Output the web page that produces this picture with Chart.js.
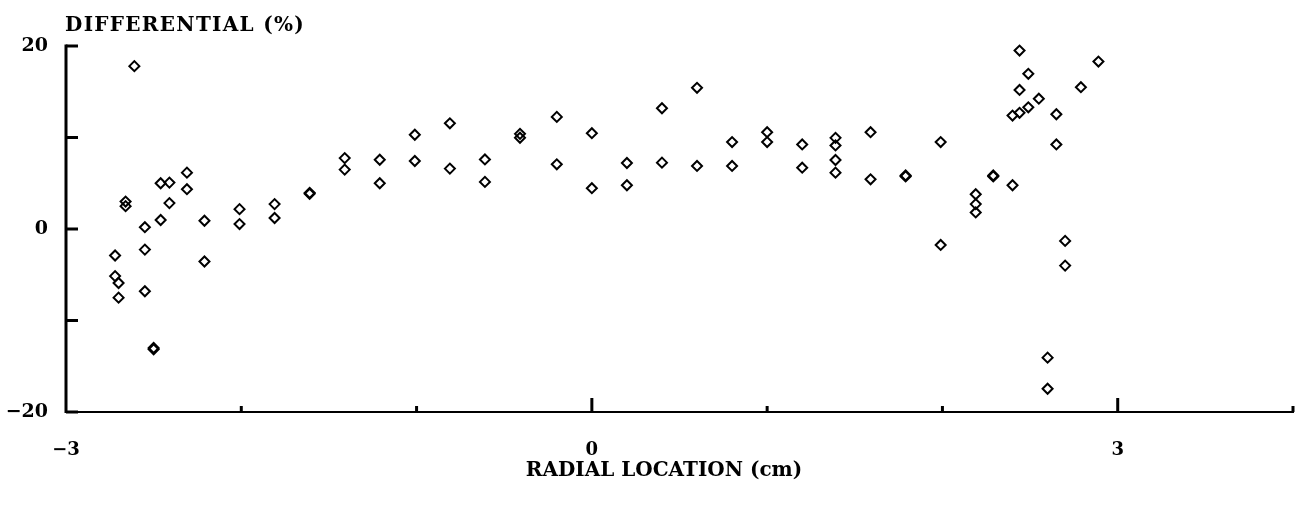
<!DOCTYPE html>
<html><head><meta charset="utf-8">
<script src="https://cdn.jsdelivr.net/npm/chart.js@4.4.1/dist/chart.umd.min.js"></script>
<style>html,body{margin:0;padding:0;background:#fff;}#wrap{width:1300px;height:508px;}</style>
</head><body><div id="wrap"><canvas id="c" width="1300" height="508"></canvas></div>
<script>
// Radial location (cm) of each measurement
const radialLocation = [
  -2.61, -2.66, -2.66, -2.72, -2.72, -2.70, -2.70, -2.55, -2.55, -2.55,
  -2.50, -2.50, -2.46, -2.41, -2.46, -2.41, -2.31, -2.31, -2.21, -2.21,
  -2.01, -2.01, -1.81, -1.81, -1.61, -1.61, -1.41, -1.41, -1.21, -1.21,
  -1.01, -1.01, -0.81, -0.81, -0.61, -0.61, -0.41, -0.41, -0.20, -0.20,
   0.00,  0.00,  0.20,  0.20,  0.40,  0.40,  0.60,  0.60,  0.80,  0.80,
   1.00,  1.00,  1.20,  1.20,  1.39,  1.39,  1.39,  1.39,  1.59,  1.59,
   1.79,  1.79,  1.99,  1.99,  2.19,  2.19,  2.19,  2.29,  2.29,  2.40,
   2.40,  2.44,  2.44,  2.44,  2.49,  2.49,  2.55,  2.65,  2.65,  2.60,
   2.60,  2.70,  2.70,  2.79,  2.89
];
// Differential (%) of each measurement
const differential = [
  17.8,  3.0,  2.5, -2.9, -5.15, -5.9, -7.5,  0.2, -2.25, -6.8,
 -13.0, -13.15, 5.0,  5.07, 0.98, 2.83, 6.16, 4.35, 0.9, -3.55,
   2.17, 0.54, 2.72, 1.2,  3.95, 3.85, 7.75, 6.49, 7.57, 5.0,
  10.3,  7.43, 11.55, 6.6, 7.6, 5.15, 10.4, 9.97, 12.25, 7.07,
  10.47, 4.46, 7.21, 4.78, 13.2, 7.25, 15.43, 6.89, 9.5, 6.89,
  10.58, 9.5, 9.24, 6.7, 9.96, 9.13, 7.54, 6.16, 10.58, 5.43,
   5.85, 5.75, 9.5, -1.74, 3.8, 2.72, 1.81, 5.85, 5.75, 4.78,
  12.4, 19.5, 15.2, 12.7, 16.96, 13.3, 14.24, 12.54, 9.24, -14.06,
 -17.46, -1.3, -4.0, 15.5, 18.3
];
const xTickLabels = { '-3': '\u22123', '0': '0', '3': '3' };
const yTickLabels = { '20': '20', '0': '0', '-20': '\u221220' };
const xAxisTitle = 'RADIAL LOCATION (cm)';
const yAxisTitle = 'DIFFERENTIAL (%)';

const FONT = '"DejaVu Serif", "Liberation Serif", serif';

const points = radialLocation.map((x, i) => ({ x: x, y: differential[i] }));

const axesPlugin = {
  id: 'axesPlugin',
  beforeDatasetsDraw(chart) {
    const ctx = chart.ctx;
    const xs = chart.scales.x, ys = chart.scales.y;
    const left = xs.getPixelForValue(xs.min);
    const right = xs.getPixelForValue(xs.max);
    const top = ys.getPixelForValue(ys.max);
    const bottom = ys.getPixelForValue(ys.min);
    ctx.save();
    ctx.strokeStyle = '#000';
    ctx.lineCap = 'butt';
    // x axis line
    ctx.lineWidth = 2;
    ctx.beginPath(); ctx.moveTo(left, bottom); ctx.lineTo(right + 1, bottom); ctx.stroke();
    // y axis line
    ctx.lineWidth = 3;
    ctx.beginPath(); ctx.moveTo(left, top - 1.5); ctx.lineTo(left, bottom + 1); ctx.stroke();
    // y ticks (inward)
    ys.ticks.forEach(t => {
      const py = ys.getPixelForValue(t.value);
      ctx.beginPath(); ctx.moveTo(left, py); ctx.lineTo(left + 12, py); ctx.stroke();
    });
    // x ticks (upward)
    xs.ticks.forEach(t => {
      if (t.value === xs.min) return;
      const px = xs.getPixelForValue(t.value);
      const len = (xTickLabels[String(t.value)] !== undefined) ? 14 : 6;
      ctx.beginPath(); ctx.moveTo(px, bottom); ctx.lineTo(px, bottom - len); ctx.stroke();
    });
    ctx.restore();
  },
  afterDraw(chart) {
    const ctx = chart.ctx;
    ctx.save();
    ctx.fillStyle = '#000';
    ctx.font = 'bold 20px ' + FONT;
    ctx.textBaseline = 'alphabetic';
    ctx.textAlign = 'left';
    if ('letterSpacing' in ctx) ctx.letterSpacing = '1.3px';
    ctx.fillText(yAxisTitle, 65, 31);
    if ('letterSpacing' in ctx) ctx.letterSpacing = '0px';
    ctx.textAlign = 'center';
    ctx.fillText(xAxisTitle, 664, 476);
    ctx.restore();
  }
};

new Chart(document.getElementById('c'), {
  type: 'scatter',
  data: {
    datasets: [{
      data: points,
      pointStyle: 'rectRot',
      pointRadius: 5,
      pointHoverRadius: 5,
      borderWidth: 2,
      borderColor: '#000',
      backgroundColor: 'rgba(0,0,0,0)',
      clip: false
    }]
  },
  options: {
    responsive: false,
    animation: false,
    devicePixelRatio: 1,
    layout: { padding: { top: 46, right: -4, left: 0, bottom: 0 } },
    plugins: { legend: { display: false }, tooltip: { enabled: false }, title: { display: false } },
    scales: {
      x: {
        type: 'linear', position: 'bottom', min: -3, max: 4,
        grid: { display: false, drawTicks: false },
        border: { display: false },
        ticks: {
          stepSize: 1, autoSkip: false, maxRotation: 0, padding: 28,
          color: '#000', font: { family: FONT, size: 18, weight: 'bold' },
          callback: v => xTickLabels[String(v)] ?? ''
        },
        afterFit: s => { s.height = 96; s.paddingLeft = 0; s.paddingRight = 0; }
      },
      y: {
        type: 'linear', position: 'left', min: -20, max: 20,
        grid: { display: false, drawTicks: false },
        border: { display: false },
        ticks: {
          stepSize: 10, autoSkip: false, padding: 18,
          color: '#000', font: { family: FONT, size: 19, weight: 'bold' },
          callback: v => yTickLabels[String(v)] ?? ''
        },
        afterFit: s => { s.width = 66; s.paddingTop = 0; s.paddingBottom = 0; }
      }
    }
  },
  plugins: [axesPlugin]
});
</script>
</body></html>
